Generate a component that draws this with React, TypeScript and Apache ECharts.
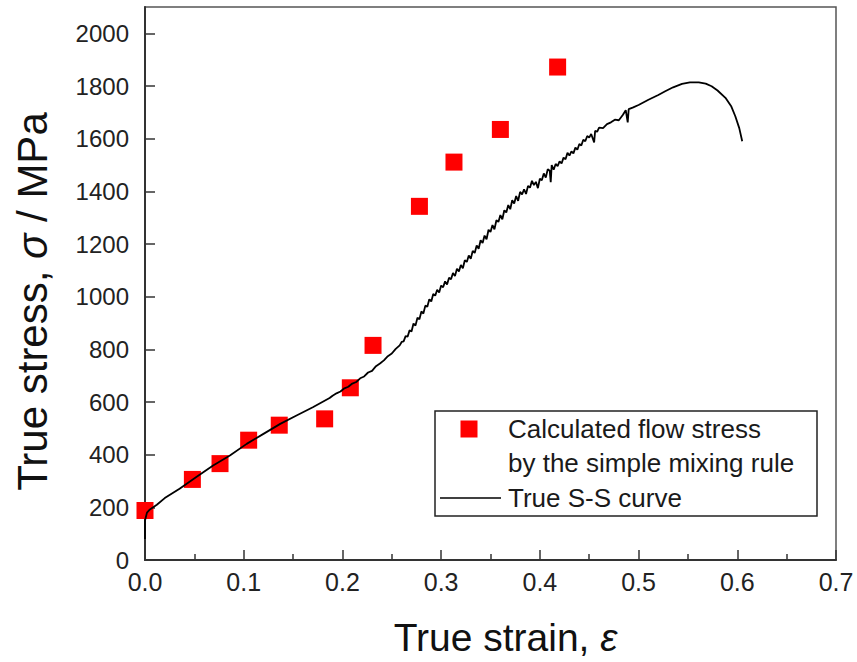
import React, { useEffect, useRef } from "react";
import * as echarts from "echarts";

const FONT = '"Liberation Sans", Arial, sans-serif';

// Calculated flow stress by the simple mixing rule
const calcStrain = [0, 0.048, 0.076, 0.105, 0.136, 0.182, 0.208, 0.231, 0.278, 0.313, 0.36, 0.418];
const calcStress = [188, 306, 366, 455, 512, 536, 654, 815, 1343, 1511, 1635, 1872];

// True S-S curve: [strain, stress MPa]
const curvePoints: [number, number][] = [
  [0, 80], [0, 150], [0.002, 180], [0.005, 192], [0.012, 210], [0.02, 235], [0.035, 271],
  [0.052, 315], [0.069, 359], [0.086, 397], [0.103, 441], [0.12, 479], [0.137, 517],
  [0.153, 548], [0.17, 580], [0.187, 615], [0.19, 624], [0.194, 633], [0.198, 640],
  [0.202, 652], [0.206, 658], [0.21, 670], [0.214, 676], [0.218, 690], [0.222, 697],
  [0.226, 712], [0.23, 718], [0.234, 736], [0.238, 746], [0.242, 758], [0.246, 774],
  [0.25, 784], [0.254, 802], [0.258, 815],
  [0.26, 828], [0.262, 830], [0.264, 850], [0.266, 848], [0.268, 872], [0.27, 868],
  [0.272, 898], [0.274, 890], [0.276, 920], [0.278, 914], [0.28, 944], [0.282, 936],
  [0.284, 966], [0.286, 962], [0.288, 990], [0.29, 982], [0.292, 1010], [0.294, 1004],
  [0.296, 1026], [0.298, 1016], [0.3, 1042], [0.302, 1036], [0.304, 1058], [0.306, 1046],
  [0.308, 1072], [0.31, 1066], [0.312, 1090], [0.314, 1078], [0.316, 1106], [0.318, 1096],
  [0.32, 1120], [0.322, 1108], [0.324, 1138], [0.326, 1132], [0.328, 1156], [0.33, 1144],
  [0.332, 1174], [0.334, 1166], [0.336, 1194], [0.338, 1182], [0.34, 1214], [0.342, 1204],
  [0.344, 1232], [0.346, 1218], [0.348, 1254], [0.35, 1246], [0.352, 1272], [0.354, 1256],
  [0.356, 1290], [0.358, 1284], [0.36, 1310], [0.362, 1294], [0.364, 1328], [0.366, 1320],
  [0.368, 1348], [0.37, 1332], [0.372, 1366], [0.374, 1354], [0.376, 1382], [0.378, 1364],
  [0.38, 1398], [0.382, 1388], [0.384, 1408], [0.386, 1390], [0.388, 1420], [0.39, 1414],
  [0.392, 1440], [0.394, 1424], [0.396, 1436], [0.398, 1412], [0.4, 1448], [0.402, 1442],
  [0.404, 1468], [0.406, 1452], [0.408, 1484], [0.41, 1478], [0.411, 1435], [0.412, 1500],
  [0.414, 1482], [0.416, 1504], [0.418, 1496], [0.42, 1514], [0.422, 1506], [0.424, 1528],
  [0.426, 1522], [0.428, 1546], [0.43, 1536], [0.432, 1552], [0.434, 1544], [0.436, 1566],
  [0.438, 1558], [0.44, 1580], [0.442, 1574], [0.444, 1596], [0.446, 1590], [0.448, 1610],
  [0.45, 1604], [0.452, 1618], [0.455, 1586], [0.456, 1630], [0.458, 1626],
  [0.46, 1642], [0.464, 1640], [0.468, 1655], [0.472, 1662], [0.476, 1672], [0.48, 1670],
  [0.484, 1690], [0.487, 1708], [0.489, 1662], [0.49, 1712], [0.494, 1718], [0.5, 1728],
  [0.51, 1748], [0.52, 1766], [0.527, 1780], [0.535, 1795], [0.544, 1808], [0.552, 1814],
  [0.561, 1814], [0.568, 1809], [0.574, 1799], [0.58, 1783], [0.588, 1755], [0.594, 1722],
  [0.598, 1685], [0.602, 1640], [0.605, 1590],
];

const legendCalcLines = ["Calculated flow stress", "by the simple mixing rule"];
const legendCurve = "True S-S curve";

export default function App() {
  const ref = useRef<HTMLDivElement>(null);
  useEffect(() => {
    document.body.style.margin = "0";
    if (!ref.current) return;
    const chart = echarts.init(ref.current, undefined, { renderer: "svg" });
    const calcData = calcStrain.map((x, i) => [x, calcStress[i]]);
    const txt = { fontFamily: FONT, fill: "#1a1a1a" };
    chart.setOption({
      animation: false,
      backgroundColor: "#fff",
      grid: {
        left: 145,
        right: 21,
        top: 7,
        bottom: 100.5,
        show: true,
        borderColor: "#555",
        borderWidth: 1.5,
        backgroundColor: "transparent",
      },
      xAxis: {
        type: "value",
        min: 0,
        max: 0.7,
        interval: 0.1,
        name: "{a|True strain, }{b|ε}",
        nameLocation: "middle",
        nameGap: 58,
        nameTextStyle: {
          padding: [0, 0, 0, 30],
          rich: {
            a: { fontSize: 39, fontFamily: FONT, color: "#111" },
            b: { fontSize: 39, fontFamily: FONT, fontStyle: "italic", color: "#111" },
          },
        },
        axisLine: { show: true, lineStyle: { color: "#333", width: 2 } },
        axisTick: { show: true, inside: true, length: 10, lineStyle: { color: "#333", width: 1.5 } },
        minorTick: { show: true, splitNumber: 2, length: 6, lineStyle: { color: "#333", width: 1.5 } },
        splitLine: { show: false },
        axisLabel: {
          margin: 9,
          fontSize: 25,
          fontFamily: FONT,
          color: "#222",
          formatter: (v: number) => v.toFixed(1),
        },
      },
      yAxis: {
        type: "value",
        min: 0,
        max: 2100,
        interval: 200,
        name: "{a|True stress, }{b|σ}{a| / MPa}",
        nameLocation: "middle",
        nameRotate: 90,
        nameGap: 92,
        nameTextStyle: {
          padding: [0, 36, 0, 0],
          rich: {
            a: { fontSize: 42, fontFamily: FONT, color: "#111" },
            b: { fontSize: 42, fontFamily: FONT, fontStyle: "italic", color: "#111" },
          },
        },
        axisLine: { show: true, lineStyle: { color: "#333", width: 2 } },
        axisTick: { show: true, inside: true, length: 10, lineStyle: { color: "#333", width: 1.5 } },
        splitLine: { show: false },
        axisLabel: {
          margin: 16,
          fontSize: 24,
          fontFamily: FONT,
          color: "#222",
          showMaxLabel: false,
          formatter: (v: number) => String(v),
        },
      },
      series: [
        {
          name: "Calculated flow stress by the simple mixing rule",
          type: "scatter",
          symbol: "rect",
          symbolSize: 17,
          itemStyle: { color: "#ff0000", opacity: 1 },
          data: calcData,
          z: 2,
        },
        {
          name: legendCurve,
          type: "line",
          showSymbol: false,
          symbol: "none",
          lineStyle: { color: "#000", width: 1.8 },
          data: curvePoints,
          z: 3,
        },
      ],
      graphic: [
        {
          type: "rect",
          shape: { x: 435, y: 411, width: 382, height: 105 },
          style: { fill: "#fff", stroke: "#222", lineWidth: 1.5 },
          z: 10,
        },
        {
          type: "rect",
          shape: { x: 460.5, y: 420.5, width: 17, height: 17 },
          style: { fill: "#ff0000" },
          z: 11,
        },
        {
          type: "text",
          x: 508,
          y: 429,
          style: { ...txt, text: legendCalcLines[0], fontSize: 26, verticalAlign: "middle" },
          z: 11,
        },
        {
          type: "text",
          x: 508,
          y: 463,
          style: { ...txt, text: legendCalcLines[1], fontSize: 26, verticalAlign: "middle" },
          z: 11,
        },
        {
          type: "line",
          shape: { x1: 440, y1: 498, x2: 501, y2: 498 },
          style: { stroke: "#000", lineWidth: 1.5 },
          z: 11,
        },
        {
          type: "text",
          x: 508,
          y: 498,
          style: { ...txt, text: legendCurve, fontSize: 26, verticalAlign: "middle" },
          z: 11,
        },
      ],
    });
    return () => chart.dispose();
  }, []);
  return <div ref={ref} style={{ width: 857, height: 662 }} />;
}
